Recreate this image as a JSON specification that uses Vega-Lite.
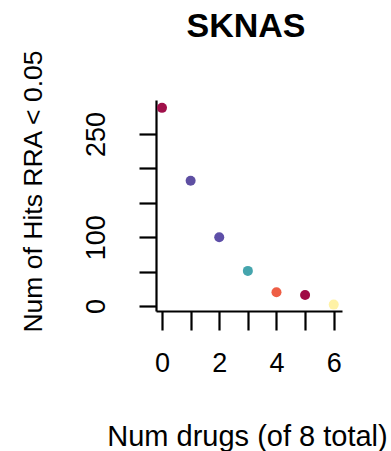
{
  "$schema": "https://vega.github.io/schema/vega-lite/v6.json",
  "autosize": "none",
  "width": 186,
  "height": 211,
  "padding": {"left": 156, "top": 100, "right": 49, "bottom": 140},
  "background": "white",
  "config": {
    "view": {"stroke": null},
    "font": "Liberation Sans",
    "axis": {
      "grid": false,
      "domainColor": "black",
      "domainWidth": 2.2,
      "tickColor": "black",
      "tickWidth": 2.2,
      "tickSize": 19,
      "labelFont": "Liberation Sans",
      "labelFontSize": 27,
      "labelColor": "black",
      "titleFont": "Liberation Sans",
      "titleFontSize": 27,
      "titleFontWeight": "normal",
      "titleColor": "black"
    }
  },
  "title": {
    "text": "SKNAS",
    "font": "Liberation Sans",
    "fontSize": 34,
    "fontWeight": "bold",
    "color": "black",
    "anchor": "middle",
    "frame": "group",
    "offset": 5,
    "dx": -3
  },
  "data": {
    "values": [
      {"drugs": 0, "hits": 288, "c": "c0"},
      {"drugs": 1, "hits": 182, "c": "c1"},
      {"drugs": 2, "hits": 100, "c": "c2"},
      {"drugs": 3, "hits": 51, "c": "c3"},
      {"drugs": 4, "hits": 20, "c": "c4"},
      {"drugs": 5, "hits": 16, "c": "c5"},
      {"drugs": 6, "hits": 2, "c": "c6"}
    ]
  },
  "mark": {"type": "circle", "size": 100, "opacity": 1},
  "encoding": {
    "x": {
      "field": "drugs",
      "type": "quantitative",
      "scale": {"domain": [-0.21, 6.29], "nice": false, "zero": false},
      "axis": {
        "values": [0, 1, 2, 3, 4, 5, 6],
        "labelExpr": "datum.value % 2 == 0 ? datum.label : ''",
        "labelBaseline": "middle",
        "labelPadding": 33,
        "title": "Num drugs (of 8 total)",
        "titleFontSize": 29,
        "titleBaseline": "middle",
        "titleY": 125,
        "titleX": 91
      }
    },
    "y": {
      "field": "hits",
      "type": "quantitative",
      "scale": {"domain": [-7.3, 299.4], "nice": false, "zero": false},
      "axis": {
        "values": [0, 50, 100, 150, 200, 250],
        "labelExpr": "(datum.value == 0 || datum.value == 100 || datum.value == 250) ? datum.label : ''",
        "labelAngle": -90,
        "labelAlign": "center",
        "labelBaseline": "middle",
        "labelPadding": 43,
        "tickSize": 17,
        "title": "Num of Hits RRA < 0.05",
        "titleFontSize": 26.5,
        "titleBaseline": "middle",
        "titleX": -123,
        "titleY": 91
      }
    },
    "color": {
      "field": "c",
      "type": "nominal",
      "legend": null,
      "scale": {
        "domain": ["c0", "c1", "c2", "c3", "c4", "c5", "c6"],
        "range": ["#A0104A", "#5E4FA2", "#5E4FA8", "#45A5AD", "#EE5E45", "#A00A45", "#FFF2A6"]
      }
    }
  }
}
